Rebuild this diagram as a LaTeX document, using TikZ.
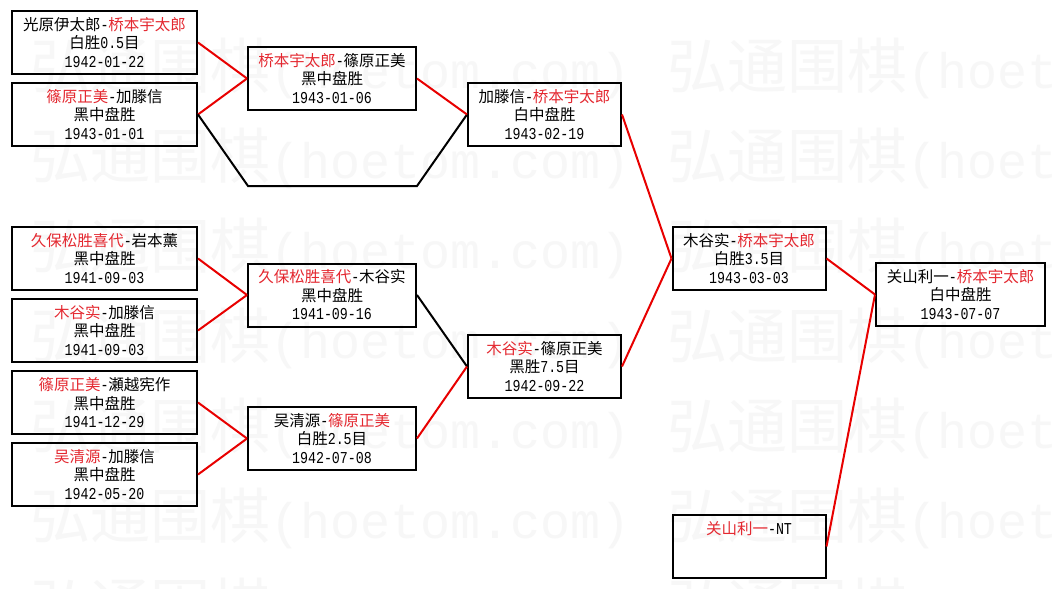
\documentclass[tikz,border=0pt]{standalone}
\usepackage{fontspec}
\usepackage{graphicx}
\newfontfamily\cjk{Noto Sans CJK SC}
\newfontfamily\monof{Liberation Mono}
\definecolor{txtred}{RGB}{228,40,48}
\definecolor{linered}{RGB}{232,0,0}
\definecolor{wmgray}{RGB}{247,247,247}
\newcommand\rd[1]{\textcolor{txtred}{#1}}
\newcommand\mo[1]{{\monof\fontsize{13.3}{18.5}\selectfont\scalebox{1}[1.25]{#1}}}
\newcommand\wmtext{弘通围棋{\monof\fontsize{50}{50}\selectfont(hoetom.com)}}
\begin{document}
\begin{tikzpicture}[x=1pt,y=-1pt,
  box/.style={draw=black, line width=2pt, inner sep=0pt, align=center, minimum height=63pt,
    font=\cjk\fontsize{15.5}{18.5}\selectfont},
  ra/.style={box, minimum width=185pt},
  rc/.style={box, minimum width=168pt},
  rd/.style={box, minimum width=153pt},
  rf/.style={box, minimum width=169pt},
  win/.style={draw=linered, line width=2pt},
  lose/.style={draw=black, line width=2pt},
  wm/.style={anchor=base west, text=wmgray, inner sep=0pt, font=\cjk\fontsize{60}{60}\selectfont}]
\useasboundingbox (0,0) rectangle (1055,589);
\fill[white] (0,0) rectangle (1055,589);
\begin{scope}
\clip (0,0) rectangle (1055,589);
\foreach \k in {0,...,6} {
  \node[wm] (wma\k) at (30,{88+90*\k}) {\wmtext};
  \node[wm] (wmb\k) at (667,{88+90*\k}) {\wmtext};
}
\end{scope}
% round 1
\node[ra] (A1) at (104.5,42.5) {光原伊太郎\mo{-}\rd{桥本宇太郎}\\白胜\mo{0.5}目\\\mo{1942-01-22}};
\node[ra] (A2) at (104.5,114.5) {\rd{篠原正美}\mo{-}加滕信\\黑中盘胜\\\mo{1943-01-01}};
\node[ra] (B1) at (104.5,258.5) {\rd{久保松胜喜代}\mo{-}岩本薰\\黑中盘胜\\\mo{1941-09-03}};
\node[ra] (B2) at (104.5,330.5) {\rd{木谷实}\mo{-}加滕信\\黑中盘胜\\\mo{1941-09-03}};
\node[ra] (B3) at (104.5,402.5) {\rd{篠原正美}\mo{-}瀬越宪作\\黑中盘胜\\\mo{1941-12-29}};
\node[ra] (B4) at (104.5,474.5) {\rd{吴清源}\mo{-}加滕信\\黑中盘胜\\\mo{1942-05-20}};
% round 2
\node[rc] (C1) at (332,78.5) {\rd{桥本宇太郎}\mo{-}篠原正美\\黑中盘胜\\\mo{1943-01-06}};
\node[rc] (C3) at (332,295) {\rd{久保松胜喜代}\mo{-}木谷实\\黑中盘胜\\\mo{1941-09-16}};
\node[rc] (C4) at (332,438.5) {吴清源\mo{-}\rd{篠原正美}\\白胜\mo{2.5}目\\\mo{1942-07-08}};
\coordinate (c2a) at (248,186);
\coordinate (c2b) at (417,186);
% round 3
\node[rd] (D1) at (544.5,114.5) {加滕信\mo{-}\rd{桥本宇太郎}\\白中盘胜\\\mo{1943-02-19}};
\node[rd] (D2) at (544.5,366.5) {\rd{木谷实}\mo{-}篠原正美\\黑胜\mo{7.5}目\\\mo{1942-09-22}};
% round 4
\node[rd] (E1) at (749,258.5) {木谷实\mo{-}\rd{桥本宇太郎}\\白胜\mo{3.5}目\\\mo{1943-03-03}};
\node[rd] (E2) at (749,546.5) {\rd{关山利一}\mo{-NT}\\\mbox{}\\\mbox{}};
% final
\node[rf] (F) at (960.5,294.5) {关山利一\mo{-}\rd{桥本宇太郎}\\白中盘胜\\\mo{1943-07-07}};
% connectors
\draw[win] (A1.east) -- (C1.west);
\draw[win] (A2.east) -- (C1.west);
\draw[lose] (A2.east) -- (c2a) -- (c2b) -- (D1.west);
\draw[win] (C1.east) -- (D1.west);
\draw[win] (B1.east) -- (C3.west);
\draw[win] (B2.east) -- (C3.west);
\draw[win] (B3.east) -- (C4.west);
\draw[win] (B4.east) -- (C4.west);
\draw[lose] (C3.east) -- (D2.west);
\draw[win] (C4.east) -- (D2.west);
\draw[win] (D1.east) -- (E1.west);
\draw[win] (D2.east) -- (E1.west);
\draw[win] (E1.east) -- (F.west);
\draw[win] (E2.east) -- (F.west);
\end{tikzpicture}
\end{document}
